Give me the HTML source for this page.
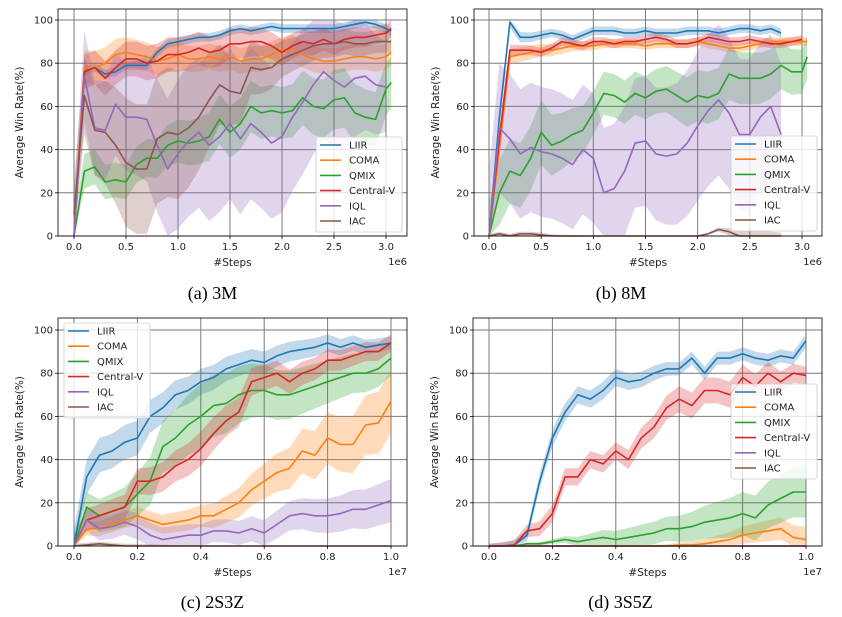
<!DOCTYPE html>
<html><head><meta charset="utf-8">
<style>
html,body{margin:0;padding:0;background:#fff;}
svg{display:block;}
.tick{font-family:"DejaVu Sans","Liberation Sans",sans-serif;font-size:10px;fill:#222;}
.ttl{font-family:"DejaVu Sans","Liberation Sans",sans-serif;font-size:10.5px;fill:#222;}
.leg{font-family:"DejaVu Sans","Liberation Sans",sans-serif;font-size:10px;fill:#222;}
.cap{font-family:"Liberation Serif",serif;font-size:18px;fill:#000;}
</style></head>
<body>
<svg id="fig" width="842" height="617" viewBox="0 0 842 617" xmlns="http://www.w3.org/2000/svg"></svg>
<script>
// ---------- data ----------
const seriesNames = ["LIIR","COMA","QMIX","Central-V","IQL","IAC"];
const seriesColors = ["#1f77b4","#ff7f0e","#2ca02c","#d62728","#9467bd","#8c564b"];

// Panel (a) 3M  (x in 1e6 steps)
const xA = [0,0.1,0.2,0.3,0.4,0.5,0.6,0.7,0.8,0.9,1.0,1.1,1.2,1.3,1.4,1.5,1.6,1.7,1.8,1.9,2.0,2.1,2.2,2.3,2.4,2.5,2.6,2.7,2.8,2.9,3.0,3.05];
const aLIIR = [0,76,78,75,76,79,79,79,85,89,90,91,92,92,93,95,96,95,96,97,96,96,96,96,96,96,97,98,99,98,96,95];
const aCOMA = [0,78,78,80,84,85,84,83,81,82,84,82,82,83,82,83,81,82,82,84,86,87,84,82,81,81,82,83,83,82,83,85];
const aQMIX = [0,30,32,25,26,25,33,36,36,42,44,43,44,46,54,48,52,60,57,58,57,58,64,60,59,63,64,57,55,54,68,71];
const aCENT = [0,76,78,73,78,82,82,80,81,84,84,85,87,85,86,89,89,90,90,88,85,88,90,89,91,89,91,92,92,93,94,96];
const aIQL  = [0,74,50,49,61,55,55,54,42,31,38,44,48,42,46,52,45,52,48,43,46,55,62,70,76,72,69,73,74,70,69,null];
const aIAC  = [10,65,49,48,42,34,31,31,45,48,47,50,55,63,70,67,66,78,77,78,82,84,86,88,89,89,90,89,89,90,90,90];
const aBand = [[2,2,2,2,2,2,2],[8,7,6,6,6,6,6],[8,8,10,12,12,14,12],[8,8,8,7,6,5,4],[20,25,35,35,35,30,20],[15,30,30,15,8,6,5]];

// Panel (b) 8M
const xB = xA;
const bLIIR = [0,55,99,92,92,93,94,93,91,93,95,95,95,94,94,95,94,94,94,95,95,95,94,95,96,96,95,96,94,null,null,null];
const bCOMA = [0,40,83,84,85,86,86,87,88,88,88,89,89,89,89,88,89,89,89,89,90,89,88,87,87,88,89,90,90,90,90,90];
const bQMIX = [0,20,30,28,36,48,42,44,47,49,57,66,65,62,66,64,67,68,65,62,65,64,66,75,73,73,73,75,79,76,76,83];
const bCENT = [0,45,86,86,86,85,87,90,89,88,90,90,89,90,90,91,92,91,89,89,90,92,91,90,90,91,90,89,89,90,91,null];
const bIQL  = [0,50,45,38,41,39,38,36,33,40,36,20,22,30,43,44,38,37,38,43,51,58,63,57,47,47,55,60,47,null,null,null];
const bIAC  = [0,1,0,1,1,0.5,0,0,0,0,0,0,0,0,0,0,0,0,0,0,0,1,3,2,0,0,0,0,0,null,null,null];
const bBand = [[3,2,2,2,2,2,2],[4,3,2,2,2,2,2],[15,15,10,10,12,12,10],[3,2,2,2,2,2,2],[30,30,30,30,35,35,30],[1,1,0,0,0,3,0]];

// Panel (c) 2S3Z (x in 1e7 steps)
const xC = [0,0.04,0.08,0.12,0.16,0.2,0.24,0.28,0.32,0.36,0.4,0.44,0.48,0.52,0.56,0.6,0.64,0.68,0.72,0.76,0.8,0.84,0.88,0.92,0.96,1.0];
const cLIIR = [0,32,42,44,48,50,60,64,70,72,76,78,82,84,86,85,88,90,91,92,94,92,94,92,93,94];
const cCOMA = [0,8,8,10,12,14,12,10,11,12,14,14,17,20,26,30,34,36,44,42,50,47,47,56,57,67];
const cQMIX = [0,18,14,16,18,24,30,46,50,56,60,65,66,70,72,72,70,70,72,74,76,78,80,80,82,87];
const cCENT = [0,12,14,16,18,30,30,32,37,40,45,52,58,62,76,78,80,76,80,82,86,86,88,90,90,94];
const cIQL  = [0,12,8,9,11,9,5,3,4,5,5,7,7,6,8,6,10,14,15,14,14,15,17,17,19,21];
const cIAC  = [0,0.5,1,0.5,0,0,0,0,0,0,0,0,0,0,0,0,0,0,0,0,0,0,0,0,0,0];
const cBand = [[8,8,6,5,4,3],[3,4,5,8,12,15],[6,10,15,12,10,8],[5,6,8,6,5,4],[5,6,5,6,8,10],[1,1,0,0,0,0]];

// Panel (d) 3S5Z
const xD = xC;
const dLIIR = [0,0,0.5,5,30,50,62,70,68,72,78,76,77,80,82,82,87,80,87,87,89,87,86,88,87,95];
const dCOMA = [0,0,0,0,0,0,0,0,0,0,0,0,0,0,0,0.5,0.5,1,2,3,5,6,7,8,4,3];
const dQMIX = [0,0,0,1,1,2,3,2,3,4,3,4,5,6,8,8,9,11,12,13,15,13,19,22,25,25];
const dCENT = [0,0,0.5,7,8,15,32,32,40,38,44,40,50,55,64,68,65,72,72,70,78,74,80,76,80,79];
const dIQL  = [0,0,0,0,0,0,0,0,0,0,0,0,0,0,0,0,0,0,0,0,0,0,0,0,0,0];
const dIAC  = [0,0,0,0,0,0,0,0,0,0,0,0,0,0,0,0,0,0,0,0,0,0,0,0,0,0];
const dBand = [[1,4,4,3,3,3],[0,0,0,1,4,6],[0,1,4,6,10,12],[1,4,4,6,6,4],[0,0,0,0,0,0],[0,0,0,0,0,0]];

const yTicks = [0,20,40,60,80,100];
const xTicksAB = [0,0.5,1.0,1.5,2.0,2.5,3.0];
const xTicksCD = [0,0.2,0.4,0.6,0.8,1.0];

// ---------- layout ----------
const panels = [
  {id:"a",cap:"(a)  3M",x:xA,ser:[aLIIR,aCOMA,aQMIX,aCENT,aIQL,aIAC],band:aBand,xt:xTicksAB,xmax:3.0,exp:"1e6",
   L:58,R:407,T:9,B:236,x0:74,x1:386,yTop:20,leg:[316,137],capY:299},
  {id:"b",cap:"(b)  8M",x:xB,ser:[bLIIR,bCOMA,bQMIX,bCENT,bIQL,bIAC],band:bBand,xt:xTicksAB,xmax:3.0,exp:"1e6",
   L:474,R:822,T:9,B:236,x0:489,x1:802,yTop:20,leg:[731,136],capY:299},
  {id:"c",cap:"(c)  2S3Z",x:xC,ser:[cLIIR,cCOMA,cQMIX,cCENT,cIQL,cIAC],band:cBand,xt:xTicksCD,xmax:1.0,exp:"1e7",
   L:58,R:407,T:318,B:546,x0:74,x1:391,yTop:330,leg:[64,323],capY:608},
  {id:"d",cap:"(d)  3S5Z",x:xD,ser:[dLIIR,dCOMA,dQMIX,dCENT,dIQL,dIAC],band:dBand,xt:xTicksCD,xmax:1.0,exp:"1e7",
   L:473,R:822,T:318,B:546,x0:489,x1:806,yTop:330,leg:[731,384],capY:608}
];

const NS="http://www.w3.org/2000/svg";
const fig=document.getElementById("fig");
function mk(tag,attrs,parent){const e=document.createElementNS(NS,tag);for(const k in attrs)e.setAttribute(k,attrs[k]);(parent||fig).appendChild(e);return e;}

function bandAt(b,f){const n=b.length-1;const p=f*n;const i=Math.min(Math.floor(p),n-1);const t=p-i;return b[i]*(1-t)+b[i+1]*t;}

panels.forEach(P=>{
  const g=mk("g",{});
  
  
  const sx=v=>P.x0+(v/P.xmax)*(P.x1-P.x0);
  const sy=v=>P.B-(v/100)*(P.B-P.yTop);
  mk("rect",{x:P.L,y:P.T,width:P.R-P.L,height:P.B-P.T,fill:"#fff"},g);
  const grid=mk("g",{stroke:"#7a7a7a","stroke-width":"1"},g);
  
  
  P.xt.forEach(t=>mk("line",{x1:sx(t),x2:sx(t),y1:P.T,y2:P.B},grid));
  yTicks.forEach(t=>mk("line",{x1:P.L,x2:P.R,y1:sy(t),y2:sy(t)},grid));
  P.ser.forEach((s,k)=>{
    let up=[],dn=[];
    s.forEach((v,i)=>{if(v===null)return;const w=bandAt(P.band[k],P.x[i]/P.x[P.x.length-1]);
      up.push([sx(P.x[i]),sy(Math.min(100,v+w))]);dn.push([sx(P.x[i]),sy(Math.max(0,v-w))]);});
    const pts=up.concat(dn.reverse()).map(p=>p[0].toFixed(1)+","+p[1].toFixed(1)).join(" ");
    const b=mk("polygon",{points:pts,fill:seriesColors[k],"fill-opacity":"0.28",stroke:"none"},g);
    
    
  });
  P.ser.forEach((s,k)=>{
    const pts=[];s.forEach((v,i)=>{if(v!==null)pts.push(sx(P.x[i]).toFixed(1)+","+sy(v).toFixed(1));});
    const l=mk("polyline",{points:pts.join(" "),fill:"none",stroke:seriesColors[k],"stroke-width":"1.6","stroke-linejoin":"round"},g);
    
    
  });
  mk("rect",{x:P.L,y:P.T,width:P.R-P.L,height:P.B-P.T,fill:"none",stroke:"#000","stroke-width":"0.8"},g);
  P.xt.forEach(t=>{
    mk("line",{x1:sx(t),x2:sx(t),y1:P.B,y2:P.B+3,stroke:"#000","stroke-width":"0.8"},g);
    const tx=mk("text",{x:sx(t),y:P.B+14,"text-anchor":"middle",class:"tick"},g);
    tx.textContent=t.toFixed(1);
    
    
  });
  yTicks.forEach(t=>{
    mk("line",{x1:P.L-3,x2:P.L,y1:sy(t),y2:sy(t),stroke:"#000","stroke-width":"0.8"},g);
    const tx=mk("text",{x:P.L-5,y:sy(t)+3.5,"text-anchor":"end",class:"tick"},g);
    tx.textContent=t;
    
    
  });
  const xl=mk("text",{x:(P.L+P.R)/2,y:P.B+30,"text-anchor":"middle",class:"ttl"},g);
  xl.textContent="#Steps";
  
  
  const ex=mk("text",{x:P.R,y:P.B+29,"text-anchor":"end",class:"tick"},g);
  ex.textContent=P.exp;
  
  
  const cy=(P.T+P.B)/2;
  const yl=mk("text",{x:P.L-35,y:cy,"text-anchor":"middle",class:"ttl",transform:"rotate(-90 "+(P.L-35)+" "+cy+")"},g);
  yl.textContent="Average Win Rate(%)";
  
  
  const lg=mk("g",{},g);
  
  
  mk("rect",{x:P.leg[0],y:P.leg[1],width:86,height:95,rx:2,fill:"#fff","fill-opacity":"0.8",stroke:"#ccc","stroke-width":"0.8"},lg);
  seriesNames.forEach((n,k)=>{
    const yy=P.leg[1]+8+k*15.2;
    const e=mk("g",{},lg);
    
    
    mk("line",{x1:P.leg[0]+4,x2:P.leg[0]+25,y1:yy,y2:yy,stroke:seriesColors[k],"stroke-width":"1.6"},e);
    const t=mk("text",{x:P.leg[0]+33,y:yy+3.5,class:"leg"},e);
    t.textContent=n;
  });
  const cp=mk("text",{x:(P.L+P.R)/2+(P.id==="a"||P.id==="c"?-20:-27),y:P.capY,"text-anchor":"middle",class:"cap"},g);
  cp.textContent=P.cap;
  
  
});
</script>
</body></html>
